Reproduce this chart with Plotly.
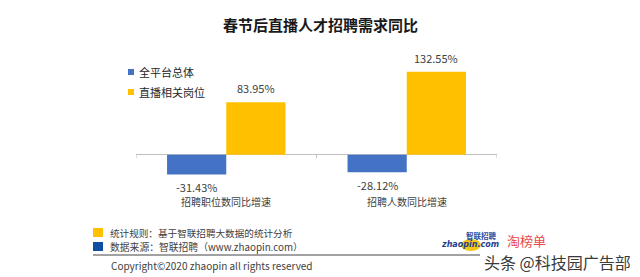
import plotly.graph_objects as go

# ---- data ----
categories = ["招聘职位数同比增速", "招聘人数同比增速"]
series_names = ["全平台总体", "直播相关岗位"]
overall = [-31.43, -28.12]
live = [83.95, 132.55]
series_values = [overall, live]
series_colors = ["#4472C4", "#FFC000"]

title = "春节后直播人才招聘需求同比"
footer_rule = "统计规则：基于智联招聘大数据的统计分析"
footer_source = "数据来源：智联招聘（www.zhaopin.com）"
copyright_txt = "Copyright©2020 zhaopin all rights reserved"
watermark = "头条 @科技园广告部"

# ---- layout geometry (pixels) ----
WIDTH, HEIGHT = 640, 277
L, R, T, B = 136, 497, 60, 180
PW, PH = R - L, B - T
FONT = "Noto Sans CJK SC"

def px(x):
    return (x - L) / PW

def py(y):
    return (B - y) / PH

BARGAP = 0.344
bar_w = (1 - BARGAP) / len(series_values)

fig = go.Figure()
for i, (name, vals, col) in enumerate(zip(series_names, series_values, series_colors)):
    fig.add_trace(go.Bar(x=categories, y=vals, name=name, marker_color=col,
                         marker_line_width=0, showlegend=False, hoverinfo="skip"))

annotations = []
shapes = []

# legend (manual: small squares + names)
for k, (name, col) in enumerate(zip(series_names, series_colors)):
    yc = 72 + 20 * k
    shapes.append(dict(type="rect", xref="paper", yref="paper", x0=px(128), x1=px(134),
                       y0=py(yc + 3), y1=py(yc - 3), fillcolor=col, line_width=0))
    annotations.append(dict(x=px(137), y=py(yc), xref="paper", yref="paper", text=name,
                            showarrow=False, xanchor="left", yanchor="middle",
                            font=dict(family=FONT, size=11, color="#262626")))

# value labels
for i, vals in enumerate(series_values):
    off = (i - (len(series_values) - 1) / 2) * bar_w
    for j, v in enumerate(vals):
        annotations.append(dict(x=j + off, y=v, xref="x", yref="y",
                                text=f"{v:.2f}%", showarrow=False,
                                yshift=14 if v >= 0 else -13,
                                font=dict(family=FONT, size=11, color="#404040")))
# category labels
for j, c in enumerate(categories):
    annotations.append(dict(x=j, y=0, xref="x", yref="y", text=c, showarrow=False,
                            yshift=-47, font=dict(family=FONT, size=10, color="#404040")))
# title
annotations.append(dict(x=px(320), y=py(25), xref="paper", yref="paper", text=f"<b>{title}</b>",
                        showarrow=False, xanchor="center", yanchor="middle",
                        font=dict(family=FONT, size=15, color="#1a1a1a")))
# footer texts
annotations.append(dict(x=px(108), y=py(233), xref="paper", yref="paper", text=footer_rule,
                        showarrow=False, xanchor="left", yanchor="middle",
                        font=dict(family=FONT, size=9.6, color="#404040")))
annotations.append(dict(x=px(108), y=py(247), xref="paper", yref="paper", text=footer_source,
                        showarrow=False, xanchor="left", yanchor="middle",
                        font=dict(family=FONT, size=9.8, color="#404040")))
annotations.append(dict(x=px(109), y=py(265), xref="paper", yref="paper", text=copyright_txt,
                        showarrow=False, xanchor="left", yanchor="middle",
                        font=dict(family=FONT, size=10, color="#404040")))
# logos (text approximations)
annotations.append(dict(x=px(470), y=py(245), xref="paper", yref="paper",
                        text="<b><i>zhaopin.com</i></b>", showarrow=False,
                        xanchor="center", yanchor="middle",
                        font=dict(family="DejaVu Sans", size=8, color="#1F3F8F")))
annotations.append(dict(x=px(481), y=py(235), xref="paper", yref="paper",
                        text="<b>智联招聘</b>", showarrow=False,
                        xanchor="center", yanchor="middle",
                        font=dict(family=FONT, size=7.5, color="#2A4DA0")))
annotations.append(dict(x=px(526), y=py(240), xref="paper", yref="paper",
                        text="淘榜单", showarrow=False,
                        xanchor="center", yanchor="middle",
                        font=dict(family=FONT, size=13, color="#E8474C")))
annotations.append(dict(x=px(557), y=py(262), xref="paper", yref="paper",
                        text=watermark, showarrow=False,
                        xanchor="center", yanchor="middle",
                        font=dict(family=FONT, size=16, color="#3a3a3a")))

# axis tick marks at category boundaries
for k in range(len(categories) + 1):
    shapes.append(dict(type="line", xref="x", yref="y", x0=k - 0.5, x1=k - 0.5,
                       y0=0, y1=-5.5, line=dict(color="#bfbfbf", width=1)))
# footer squares
shapes.append(dict(type="rect", xref="paper", yref="paper", x0=px(93), x1=px(103),
                   y0=py(228), y1=py(237), fillcolor="#FFC000", line_width=0))
shapes.append(dict(type="rect", xref="paper", yref="paper", x0=px(93), x1=px(103),
                   y0=py(242), y1=py(251), fillcolor="#0E4EA3", line_width=0))
# footer rule line
shapes.append(dict(type="line", xref="paper", yref="paper", x0=px(93), x1=px(480),
                   y0=py(255), y1=py(255), line=dict(color="#444444", width=1)))
# logo ellipse
shapes.append(dict(type="circle", xref="paper", yref="paper", x0=px(461), x1=px(481),
                   y0=py(239), y1=py(251), fillcolor="#F5C518", line_width=0, layer="below"))

zero_px = 154.7
scale = 0.626  # px per percent
y_top = (zero_px - T) / scale
y_bot = -(B - zero_px) / scale

fig.update_layout(
    width=WIDTH, height=HEIGHT,
    margin=dict(l=L, r=WIDTH - R, t=T, b=HEIGHT - B),
    paper_bgcolor="white", plot_bgcolor="white",
    barmode="group", bargap=BARGAP, bargroupgap=0,
    xaxis=dict(type="category", showticklabels=False, showgrid=False, zeroline=False,
               showline=False, ticks="", range=[-0.5, len(categories) - 0.5]),
    yaxis=dict(range=[y_bot, y_top], showticklabels=False, showgrid=False,
               zeroline=True, zerolinecolor="#bfbfbf", zerolinewidth=1, showline=False),
    annotations=annotations, shapes=shapes,
    showlegend=False,
)

fig.write_html("out.html")
